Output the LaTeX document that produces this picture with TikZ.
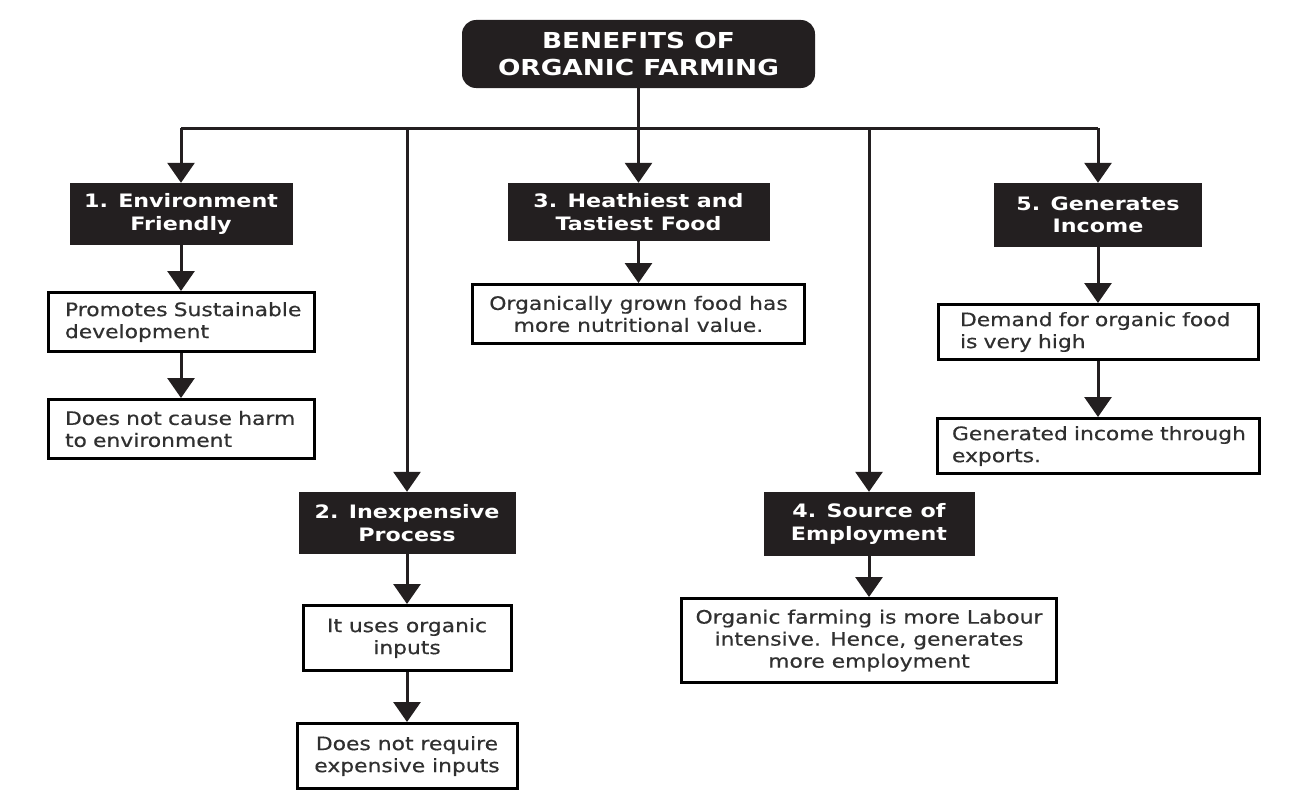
\documentclass[tikz,border=0pt]{standalone}
\usepackage{fontspec}
\setmainfont{DejaVu Sans}[FakeStretch=1.18,FakeBold=0.5]
\newfontfamily\headfont{DejaVu Sans Bold}[FakeStretch=1.2]
\usetikzlibrary{arrows.meta}
\definecolor{hdr}{HTML}{231F20}
\definecolor{txt}{HTML}{303030}
\begin{document}
\begin{tikzpicture}[x=1pt,y=-1pt,
  hbox/.style n args={2}{fill=hdr,text=white,font=\headfont\fontsize{18.5}{22.5}\selectfont,
    align=center,inner sep=0pt,minimum width=#1,minimum height=#2},
  tbox/.style n args={2}{hbox={#1}{#2},rounded corners=14pt,font=\headfont\fontsize{22}{27}\selectfont},
  cbox/.style n args={2}{draw=black,line width=3pt,fill=white,text=txt,
    font=\fontsize{18.5}{22}\selectfont,align=center,inner sep=0pt,minimum width=#1,minimum height=#2},
  lbox/.style n args={3}{draw=black,line width=3pt,fill=white,text=txt,
    font=\fontsize{18.5}{22}\selectfont,align=left,inner ysep=0pt,inner xsep=#3,
    text width=#1,minimum height=#2},
  wire/.style={line width=3pt,draw=hdr},
  conn/.style={wire,-{Triangle[width=27pt,length=20pt]}}]
\useasboundingbox (0,0) rectangle (1301,800);
\fill[white] (0,0) rectangle (1301,800);

% title
\node[tbox={353pt}{68pt}] (title) at (638.5,54) {BENEFITS OF\\ORGANIC FARMING};

% headers
\node[hbox={223pt}{62pt}] (b1) at (181,214) {1. Environment\\Friendly};
\node[hbox={217pt}{62pt}] (b2) at (407,523) {2. Inexpensive\\Process};
\node[hbox={262pt}{58pt}] (b3) at (638.5,212) {3. Heathiest and\\Tastiest Food};
\node[hbox={211pt}{64pt}] (b4) at (869,524) {4. Source of\\Employment};
\node[hbox={208pt}{64pt}] (b5) at (1098,215) {5. Generates\\Income};

% detail boxes
\node[lbox={232pt}{59pt}{17pt}] (b1a) at (181,322) {\mbox{Promotes Sustainable}\\\mbox{development}};
\node[lbox={232pt}{59pt}{17pt}] (b1b) at (181,429) {\mbox{Does not cause harm}\\\mbox{to environment}};
\node[cbox={208pt}{65pt}] (b2a) at (407,638) {It uses organic\\inputs};
\node[cbox={220pt}{65pt}] (b2b) at (407,756) {Does not require\\expensive inputs};
\node[cbox={332pt}{59pt}] (b3a) at (638.5,314) {Organically grown food has\\more nutritional value.};
\node[cbox={375pt}{84pt}] (b4a) at (869,640.5) {Organic farming is more Labour\\intensive. Hence, generates\\more employment};
\node[lbox={276pt}{55pt}{22pt}] (b5a) at (1098,332) {\mbox{Demand for organic food}\\\mbox{is very high}};
\node[lbox={292pt}{55pt}{15pt}] (b5b) at (1098,446) {\mbox{Generated income through}\\\mbox{exports.}};

% trunk and bar
\coordinate (bar) at (638.5,128);
\draw[conn] (title.south) -- (b3.north);
\draw[wire] (bar -| b1.north) -- (bar -| b5.north);
\draw[conn] (bar -| b1.north) -- (b1.north);
\draw[conn] (bar -| b2.north) -- (b2.north);
\draw[conn] (bar -| b4.north) -- (b4.north);
\draw[conn] (bar -| b5.north) -- (b5.north);

% chains
\draw[conn] (b1.south) -- (b1a.north);
\draw[conn] (b1a.south) -- (b1b.north);
\draw[conn] (b2.south) -- (b2a.north);
\draw[conn] (b2a.south) -- (b2b.north);
\draw[conn] (b3.south) -- (b3a.north);
\draw[conn] (b4.south) -- (b4a.north);
\draw[conn] (b5.south) -- (b5a.north);
\draw[conn] (b5a.south) -- (b5b.north);
\end{tikzpicture}
\end{document}
